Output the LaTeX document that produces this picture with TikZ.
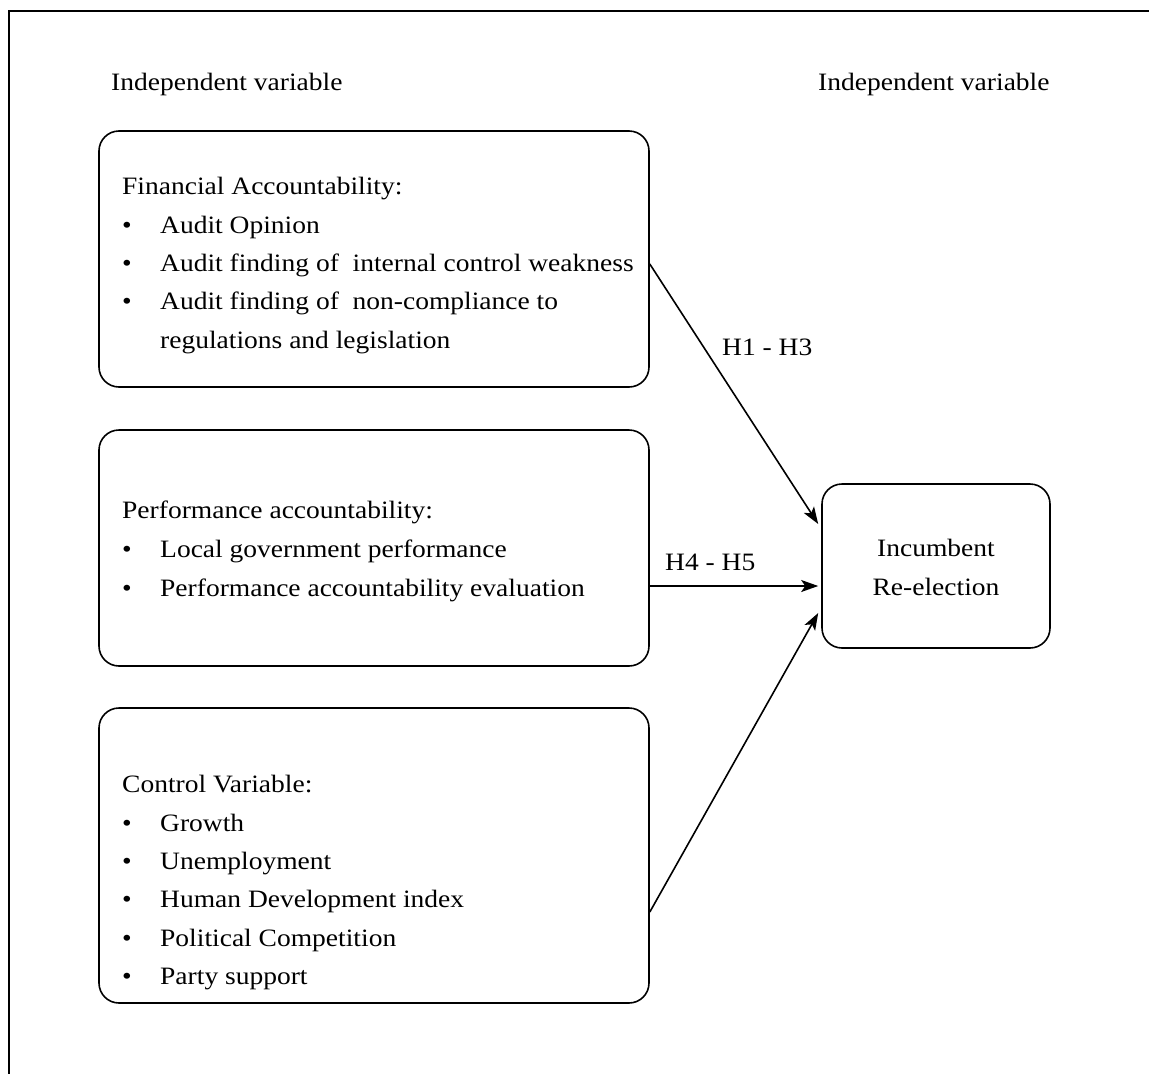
\documentclass[tikz,border=0pt]{standalone}
\usepackage{fontspec}
\setmainfont{Liberation Serif}[FakeStretch=1.1]
\usetikzlibrary{arrows.meta,calc}
\begin{document}
\begin{tikzpicture}[x=1pt,y=-1pt,
  box/.style={draw, line width=1.6pt, rounded corners=20pt, inner sep=0pt},
  txt/.style={anchor=base west, inner sep=0pt, font=\fontsize{25}{28}\selectfont},
  ctxt/.style={anchor=base, inner sep=0pt, font=\fontsize{25}{28}\selectfont},
  conn/.style={line width=1.6pt, -{Stealth[length=17pt,width=12pt,inset=4pt]}}]
\useasboundingbox (0,0) rectangle (1149,1074);
% frame
\draw[line width=2pt] (9,1074) -- (9,11) -- (1149,11);
% headings
\node[txt] (hl) at (111,90) {Independent variable};
\node[txt] (hr) at (818,90) {Independent variable};
% boxes
\node[box, minimum width=550pt, minimum height=256pt] (b1) at (374,259) {};
\node[box, minimum width=550pt, minimum height=236pt] (b2) at (374,548) {};
\node[box, minimum width=550pt, minimum height=295pt] (b3) at (374,855.5) {};
\node[box, minimum width=228pt, minimum height=164pt] (b4) at (936,566) {};
% box 1 text
\node[txt] (t11) at (122,194) {Financial Accountability:};
\node[txt] (t12) at (122,233) {•}; \node[txt] (t12b) at (160,233) {Audit Opinion};
\node[txt] (t13) at (122,271) {•}; \node[txt] (t13b) at (160,271) {Audit finding of \ internal control weakness};
\node[txt] (t14) at (122,309) {•}; \node[txt] (t14b) at (160,309) {Audit finding of \ non-compliance to};
\node[txt] (t15) at (160,348) {regulations and legislation};
% box 2 text
\node[txt] (t21) at (122,518) {Performance accountability:};
\node[txt] (t22) at (122,557) {•}; \node[txt] (t22b) at (160,557) {Local government performance};
\node[txt] (t23) at (122,596) {•}; \node[txt] (t23b) at (160,596) {Performance accountability evaluation};
% box 3 text
\node[txt] (t31) at (122,792) {Control Variable:};
\node[txt] (t32) at (122,831) {•}; \node[txt] (t32b) at (160,831) {Growth};
\node[txt] (t33) at (122,869) {•}; \node[txt] (t33b) at (160,869) {Unemployment};
\node[txt] (t34) at (122,907) {•}; \node[txt] (t34b) at (160,907) {Human Development index};
\node[txt] (t35) at (122,946) {•}; \node[txt] (t35b) at (160,946) {Political Competition};
\node[txt] (t36) at (122,984) {•}; \node[txt] (t36b) at (160,984) {Party support};
% box 4 text
\node[ctxt] (t41) at (936,556) {Incumbent};
\node[ctxt] (t42) at (936,595) {Re-election};
% connectors
\coordinate (y1) at (0,264);
\coordinate (y2) at (0,586);
\coordinate (y3) at (0,912);
\coordinate (e1) at (0,524);
\coordinate (e3) at (0,613);
\draw[conn] (b1.east |- y1) -- ($(b4.west |- e1)+(-3,0)$);
\draw[conn] (b2.east |- y2) -- ($(b4.west |- y2)+(-3,0)$);
\draw[conn] (b3.east |- y3) -- ($(b4.west |- e3)+(-3,0)$);
% labels
\node[txt] (h13) at (722,355) {H1 - H3};
\node[txt] (h45) at (665,570) {H4 - H5};
\end{tikzpicture}
\end{document}
